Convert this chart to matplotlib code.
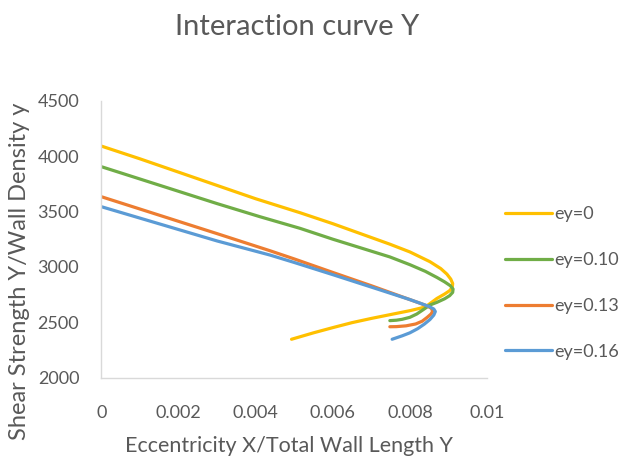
import matplotlib
matplotlib.use("Agg")
import matplotlib.pyplot as plt

# Interaction curves: eccentricity ratio (x) vs. shear strength per wall density (y)
labels = ["ey=0", "ey=0.10", "ey=0.13", "ey=0.16"]
colors = ["#FFC000", "#70AD47", "#ED7D31", "#5B9BD5"]

ey0_x = [0, 0.001, 0.002, 0.003, 0.004, 0.00515, 0.006, 0.00748, 0.0080, 0.00852,
         0.0088, 0.00896, 0.00906, 0.00911, 0.0091, 0.00903, 0.0089, 0.0087,
         0.0084, 0.008, 0.0075, 0.007, 0.0065, 0.006, 0.0055, 0.00493]
ey0_y = [4090, 3975, 3855, 3735, 3615, 3489, 3390, 3205, 3135, 3047,
         2985, 2935, 2890, 2850, 2815, 2785, 2755, 2715,
         2638, 2605, 2570, 2535, 2497, 2452, 2405, 2347]

ey10_x = [0, 0.001, 0.002, 0.003, 0.00411, 0.00515, 0.006, 0.00748, 0.008, 0.0084,
          0.0087, 0.0089, 0.00905, 0.00912, 0.00911, 0.00903, 0.0089, 0.0087,
          0.00852, 0.00835, 0.00818, 0.008, 0.0078, 0.00765, 0.00748]
ey10_y = [3904, 3793, 3682, 3571, 3453, 3348, 3250, 3090, 3020, 2960,
          2905, 2865, 2830, 2800, 2770, 2740, 2712, 2680,
          2656, 2615, 2575, 2545, 2527, 2519, 2515]

ey13_x = [0, 0.001, 0.002, 0.003, 0.00437, 0.005, 0.006, 0.007, 0.0078, 0.0082,
          0.00845, 0.00856, 0.00859, 0.00855, 0.00845, 0.00832, 0.00815, 0.0079,
          0.00765, 0.00748]
ey13_y = [3633, 3522, 3411, 3300, 3146, 3072, 2950, 2830, 2730, 2680,
          2648, 2625, 2600, 2575, 2545, 2510, 2485, 2468,
          2461, 2460]

ey16_x = [0, 0.001, 0.002, 0.003, 0.00437, 0.005, 0.006, 0.00722, 0.008, 0.0083,
          0.0085, 0.00862, 0.00866, 0.00862, 0.00852, 0.00838, 0.0082, 0.008,
          0.0078, 0.00754]
ey16_y = [3543, 3440, 3337, 3234, 3107, 3040, 2930, 2793, 2705, 2668,
          2642, 2620, 2597, 2565, 2525, 2485, 2442, 2405,
          2378, 2347]

series_x = [ey0_x, ey10_x, ey13_x, ey16_x]
series_y = [ey0_y, ey10_y, ey13_y, ey16_y]

x_ticks = [0, 0.002, 0.004, 0.006, 0.008, 0.01]
x_tick_labels = ["0", "0.002", "0.004", "0.006", "0.008", "0.01"]
y_ticks = [2000, 2500, 3000, 3500, 4000, 4500]

plt.rcParams["font.family"] = ["Lato", "DejaVu Sans"]
text_color = "#595959"

fig = plt.figure(figsize=(6.21, 4.57), dpi=100)
ax = fig.add_axes([0.1634, 0.1735, 0.6208, 0.6062])

for xs, ys, c, lab in zip(series_x, series_y, colors, labels):
    ax.plot(xs, ys, color=c, lw=2.3, label=lab, solid_capstyle="round",
            solid_joinstyle="round")

ax.set_xlim(0, 0.01)
ax.set_ylim(2000, 4500)
ax.set_xticks(x_ticks)
ax.set_xticklabels(x_tick_labels)
ax.set_yticks(y_ticks)
ax.tick_params(length=0, labelsize=13, colors=text_color)
ax.tick_params(axis="y", pad=16)
ax.tick_params(axis="x", pad=20)

for side in ("top", "right"):
    ax.spines[side].set_visible(False)
for side in ("left", "bottom"):
    ax.spines[side].set_color("#D9D9D9")
    ax.spines[side].set_linewidth(1.0)

fig.text(0.478, 0.94, "Interaction curve Y", ha="center", va="center",
         fontsize=21, color=text_color)
fig.text(0.465, 0.025, "Eccentricity X/Total Wall Length Y", ha="center",
         va="center", fontsize=15.5, color=text_color)
fig.text(0.032, 0.407, "Shear Strength Y/Wall Density y", ha="center",
         va="center", rotation=90, fontsize=17, color=text_color)

leg = ax.legend(loc="center left", bbox_to_anchor=(1.0, 0.342), frameon=False,
                fontsize=13, handlelength=2.6, handletextpad=0.1,
                labelspacing=1.65, borderaxespad=0.6)
for t in leg.get_texts():
    t.set_color(text_color)

fig.savefig("out.png", dpi=100)
